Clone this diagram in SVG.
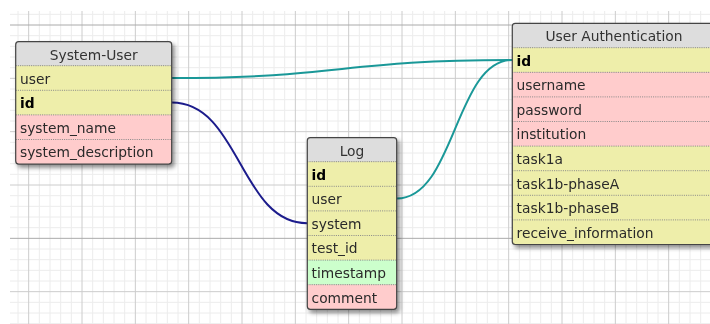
<svg xmlns="http://www.w3.org/2000/svg" width="710" height="324" viewBox="0 0 710 324">
<style>
.minor{stroke:#ececec;stroke-width:1;fill:none}
.major{stroke:#cccccc;stroke-width:1;fill:none}
.dark{stroke:#aaaaaa;stroke-width:1;fill:none}
.hdr{fill:#dddddd}
.y{fill:#eeeeaa}
.p{fill:#ffcccc}
.g{fill:#ccffcc}
.sep{stroke:#888;stroke-width:1;stroke-dasharray:1,1.2;fill:none}
.frame{fill:none;stroke:#444;stroke-width:1.2}
.t{font-family:"DejaVu Sans","Liberation Sans",sans-serif;font-size:13.8px;fill:#2a2a2a}
.h{font-family:"DejaVu Sans","Liberation Sans",sans-serif;font-size:13.8px;fill:#333;text-anchor:middle}
.b{font-weight:bold;fill:#000}
.teal{stroke:#1a9898;stroke-width:2;fill:none}
.navy{stroke:#1c1c8c;stroke-width:2;fill:none}
</style>
<defs>
<filter id="sh" x="-10%" y="-10%" width="130%" height="130%">
<feDropShadow dx="2.5" dy="3" stdDeviation="2.2" flood-color="#000" flood-opacity="0.45"/>
</filter>
<clipPath id="c1"><rect x="15.7" y="41.7" width="156" height="122.4" rx="3"/></clipPath>
<clipPath id="c2"><rect x="307.3" y="137.7" width="89.4" height="171.6" rx="3"/></clipPath>
<clipPath id="c3"><rect x="512.3" y="23.3" width="203" height="221.2" rx="3"/></clipPath>
</defs>
<rect width="710" height="324" fill="#fff"/>
<g id="grid">
<path class="minor" d="M18 11V324M39.33 11V324M50 11V324M60.67 11V324M71.33 11V324M92.67 11V324M103.33 11V324M114 11V324M124.67 11V324M146 11V324M156.67 11V324M167.33 11V324M178 11V324M199.33 11V324M210 11V324M220.67 11V324M231.33 11V324M252.67 11V324M263.33 11V324M274 11V324M284.67 11V324M306 11V324M316.67 11V324M327.33 11V324M338 11V324M359.33 11V324M370 11V324M380.67 11V324M391.33 11V324M412.67 11V324M423.33 11V324M434 11V324M444.67 11V324M466 11V324M476.67 11V324M487.33 11V324M498 11V324M519.33 11V324M530 11V324M540.67 11V324M551.33 11V324M572.67 11V324M583.33 11V324M594 11V324M604.67 11V324M626 11V324M636.67 11V324M647.33 11V324M658 11V324M679.33 11V324M690 11V324M700.67 11V324"/>
<path class="minor" d="M10 14.33H710M10 35.67H710M10 46.33H710M10 57H710M10 67.67H710M10 89H710M10 99.67H710M10 110.33H710M10 121H710M10 142.33H710M10 153H710M10 163.67H710M10 174.33H710M10 195.67H710M10 206.33H710M10 217H710M10 227.67H710M10 249H710M10 259.67H710M10 270.33H710M10 281H710M10 302.33H710M10 313H710M10 323.67H710"/>
<path class="major" d="M28.67 11V324M82 11V324M135.33 11V324M188.67 11V324M242 11V324M295.33 11V324M348.67 11V324M402 11V324M455.33 11V324M508.67 11V324M562 11V324M615.33 11V324M668.67 11V324"/>
<path class="major" d="M10 78.33H710M10 131.67H710M10 185H710M10 291.67H710"/>
<path class="dark" d="M10 25H710M10 238.33H710"/>
</g>
<g id="connectors">
<path class="teal" d="M171.7 78C342 78 342 60 512.3 60"/>
<path class="teal" d="M396.7 198.6C455 198.6 455 60 512.3 60"/>
<path class="navy" d="M171.7 102.6C240 102.6 240 223.2 307.3 223.2"/>
</g>
<g id="system-user" filter="url(#sh)">
<g clip-path="url(#c1)">
<rect class="hdr" x="15.7" y="41.7" width="156" height="24"/>
<rect class="y" x="15.7" y="65.7" width="156" height="49.2"/>
<rect class="p" x="15.7" y="114.9" width="156" height="49.2"/>
</g>
<path class="sep" d="M15.7 65.7H171.7M15.7 90.3H171.7M15.7 114.9H171.7M15.7 139.5H171.7"/>
<rect class="frame" x="15.7" y="41.7" width="156" height="122.4" rx="3"/>
<text class="h" x="93.7" y="59.6">System-User</text>
<text class="t" x="20" y="83.6">user</text>
<text class="t b" x="20" y="108.2">id</text>
<text class="t" x="20" y="132.8">system_name</text>
<text class="t" x="20" y="157.4">system_description</text>
</g>
<g id="log" filter="url(#sh)">
<g clip-path="url(#c2)">
<rect class="hdr" x="307.3" y="137.7" width="89.4" height="24"/>
<rect class="y" x="307.3" y="161.7" width="89.4" height="98.4"/>
<rect class="g" x="307.3" y="260.1" width="89.4" height="24.6"/>
<rect class="p" x="307.3" y="284.7" width="89.4" height="24.6"/>
</g>
<path class="sep" d="M307.3 161.7H396.7M307.3 186.3H396.7M307.3 210.9H396.7M307.3 235.5H396.7M307.3 260.1H396.7M307.3 284.7H396.7"/>
<rect class="frame" x="307.3" y="137.7" width="89.4" height="171.6" rx="3"/>
<text class="h" x="352" y="155.6">Log</text>
<text class="t b" x="311.6" y="179.6">id</text>
<text class="t" x="311.6" y="204.2">user</text>
<text class="t" x="311.6" y="228.8">system</text>
<text class="t" x="311.6" y="253.4">test_id</text>
<text class="t" x="311.6" y="278">timestamp</text>
<text class="t" x="311.6" y="302.6">comment</text>
</g>
<g id="user-authentication" filter="url(#sh)">
<g clip-path="url(#c3)">
<rect class="hdr" x="512.3" y="23.3" width="203" height="24.4"/>
<rect class="y" x="512.3" y="47.7" width="203" height="24.6"/>
<rect class="p" x="512.3" y="72.3" width="203" height="73.8"/>
<rect class="y" x="512.3" y="146.1" width="203" height="98.4"/>
</g>
<path class="sep" d="M512.3 47.7H715.3M512.3 72.3H715.3M512.3 96.9H715.3M512.3 121.5H715.3M512.3 146.1H715.3M512.3 170.7H715.3M512.3 195.3H715.3M512.3 219.9H715.3"/>
<rect class="frame" x="512.3" y="23.3" width="203" height="221.2" rx="3"/>
<text class="h" x="614" y="41.3">User Authentication</text>
<text class="t b" x="516.6" y="65.6">id</text>
<text class="t" x="516.6" y="90.2">username</text>
<text class="t" x="516.6" y="114.8">password</text>
<text class="t" x="516.6" y="139.4">institution</text>
<text class="t" x="516.6" y="164">task1a</text>
<text class="t" x="516.6" y="188.6">task1b-phaseA</text>
<text class="t" x="516.6" y="213.2">task1b-phaseB</text>
<text class="t" x="516.6" y="237.8">receive_information</text>
</g>
</svg>
